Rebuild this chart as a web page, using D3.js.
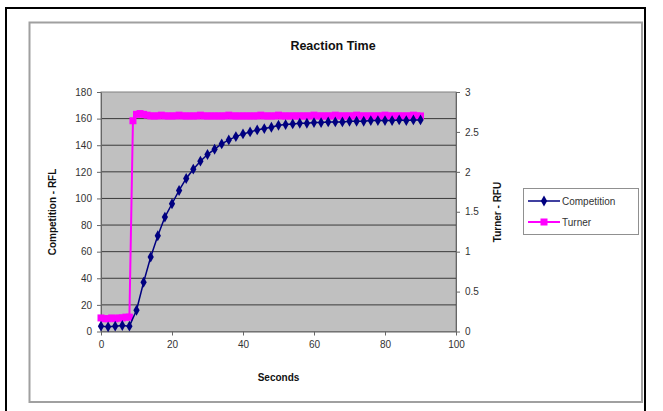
<!DOCTYPE html>
<html><head><meta charset="utf-8">
<script src="https://cdn.jsdelivr.net/npm/d3@7"></script>
<style>html,body{margin:0;padding:0;background:#fff;} svg{display:block;font-family:"Liberation Sans",Arial,sans-serif;}</style>
</head><body>
<svg id="chart" width="663" height="411"></svg>
<script>
const xTicks = [0, 20, 40, 60, 80, 100];
const leftTicks = [0, 20, 40, 60, 80, 100, 120, 140, 160, 180];
const rightTicks = [0, 0.5, 1, 1.5, 2, 2.5, 3];
const rightTickLabels = ["0", "0.5", "1", "1.5", "2", "2.5", "3"];

const competitionX = [0,2,4,6,8,10,12,14,16,18,20,22,24,26,28,30,32,34,36,38,40,42,44,46,48,50,52,54,56,58,60,62,64,66,68,70,72,74,76,78,80,82,84,86,88,90];
const competitionY = [4,3.5,4,4.5,4,16,37,56,72,86,96,106,115,122,128,133,137,141,144,146.5,148.5,150,151.5,152.5,153.5,155,155.5,156,156.5,156.5,157,157,157.5,157.5,157.5,158,158,158,158.5,158.5,158.5,158.5,159,158.5,159,159];

const turnerX = [0,1,2,3,4,5,6,7,8,9,10,11,12,13,14,15,16,17,18,19,20,21,22,23,24,25,26,27,28,29,30,31,32,33,34,35,36,37,38,39,40,41,42,43,44,45,46,47,48,49,50,51,52,53,54,55,56,57,58,59,60,61,62,63,64,65,66,67,68,69,70,71,72,73,74,75,76,77,78,79,80,81,82,83,84,85,86,87,88,89,90];
const turnerY = [0.17,0.16,0.16,0.17,0.16,0.17,0.17,0.18,0.18,2.64,2.72,2.73,2.72,2.71,2.70,2.70,2.70,2.71,2.70,2.70,2.70,2.70,2.71,2.70,2.70,2.70,2.70,2.70,2.71,2.70,2.70,2.70,2.70,2.70,2.70,2.70,2.71,2.70,2.70,2.70,2.70,2.70,2.70,2.70,2.70,2.71,2.70,2.70,2.70,2.70,2.71,2.70,2.70,2.70,2.70,2.70,2.70,2.70,2.70,2.70,2.71,2.70,2.70,2.70,2.70,2.70,2.71,2.70,2.70,2.70,2.70,2.70,2.71,2.70,2.70,2.70,2.70,2.70,2.70,2.70,2.71,2.70,2.70,2.70,2.70,2.70,2.70,2.70,2.71,2.70,2.70];

const seriesNames = ["Competition", "Turner"];
const seriesColors = ["#000080", "#ff00ff"];

const svg = d3.select("#chart");
const P = {l: 101, r: 456, t: 92, b: 331.5};

const x = d3.scaleLinear().domain([0, 100]).range([P.l, P.r]);
const yL = d3.scaleLinear().domain([0, 180]).range([P.b, P.t]);
const yR = d3.scaleLinear().domain([0, 3]).range([P.b, P.t]);

// frames
svg.append("rect").attr("x", 6).attr("y", 8).attr("width", 639).attr("height", 420)
  .attr("fill", "#fff").attr("stroke", "#000").attr("stroke-width", 2);
svg.append("rect").attr("x", 29.5).attr("y", 22.5).attr("width", 612.5).attr("height", 379.5)
  .attr("fill", "#fff").attr("stroke", "#a0a0a0").attr("stroke-width", 2);

// plot background
svg.append("rect").attr("x", P.l).attr("y", P.t).attr("width", P.r - P.l).attr("height", P.b - P.t)
  .attr("fill", "#c0c0c0").attr("stroke", "#808080").attr("stroke-width", 1);

// gridlines
svg.append("g").selectAll("line").data(leftTicks.filter(d => d > 0 && d < 180)).join("line")
  .attr("x1", P.l).attr("x2", P.r).attr("y1", d => yL(d)).attr("y2", d => yL(d))
  .attr("stroke", "#3a3a3a").attr("stroke-width", 1);

// axes
const tickFont = g => g.selectAll("text").attr("font-size", 10).attr("fill", "#333")
  .attr("font-family", '"Liberation Sans",Arial,sans-serif');
const axisStyle = g => { g.select(".domain").attr("stroke", "#666"); g.selectAll(".tick line").attr("stroke", "#666"); };

svg.append("g").attr("transform", `translate(${P.l},0)`)
  .call(d3.axisLeft(yL).tickValues(leftTicks).tickSize(4).tickPadding(5).tickSizeOuter(0))
  .call(tickFont).call(axisStyle);
svg.append("g").attr("transform", `translate(${P.r},0)`)
  .call(d3.axisRight(yR).tickValues(rightTicks).tickFormat((d, i) => rightTickLabels[i]).tickSize(4).tickPadding(5).tickSizeOuter(0))
  .call(tickFont).call(axisStyle);
svg.append("g").attr("transform", `translate(0,${P.b})`)
  .call(d3.axisBottom(x).tickValues(xTicks).tickSize(4).tickPadding(5).tickSizeOuter(0))
  .call(tickFont).call(axisStyle);

// titles
svg.append("text").attr("x", 333).attr("y", 50).attr("text-anchor", "middle")
  .attr("font-size", 12.5).attr("font-weight", "bold").attr("fill", "#111").text("Reaction Time");
svg.append("text").attr("x", 278.5).attr("y", 381).attr("text-anchor", "middle")
  .attr("font-size", 10).attr("font-weight", "bold").attr("fill", "#111").text("Seconds");
svg.append("text").attr("transform", "translate(56,212) rotate(-90)").attr("text-anchor", "middle")
  .attr("font-size", 10).attr("font-weight", "bold").attr("fill", "#111").text("Competition - RFL");
svg.append("text").attr("transform", "translate(501,212) rotate(-90)").attr("text-anchor", "middle")
  .attr("font-size", 10).attr("font-weight", "bold").attr("fill", "#111").text("Turner - RFU");

// Turner series (right axis)
const turner = turnerX.map((d, i) => [d, turnerY[i]]);
svg.append("path").datum(turner)
  .attr("d", d3.line().x(d => x(d[0])).y(d => yR(d[1])))
  .attr("fill", "none").attr("stroke", seriesColors[1]).attr("stroke-width", 2);
svg.append("g").selectAll("rect").data(turner).join("rect")
  .attr("x", d => x(d[0]) - 3.5).attr("y", d => yR(d[1]) - 3.5).attr("width", 7).attr("height", 7)
  .attr("fill", seriesColors[1]);

// Competition series (left axis)
const comp = competitionX.map((d, i) => [d, competitionY[i]]);
svg.append("path").datum(comp)
  .attr("d", d3.line().x(d => x(d[0])).y(d => yL(d[1])))
  .attr("fill", "none").attr("stroke", seriesColors[0]).attr("stroke-width", 1.5);
const diamond = d3.symbol().type(d3.symbolDiamond).size(34);
svg.append("g").selectAll("path").data(comp).join("path")
  .attr("transform", d => `translate(${x(d[0])},${yL(d[1])})`)
  .attr("d", diamond).attr("fill", seriesColors[0]);

// legend
const lg = svg.append("g");
lg.append("rect").attr("x", 523.5).attr("y", 188.5).attr("width", 115).attr("height", 46)
  .attr("fill", "#fff").attr("stroke", "#909090").attr("stroke-width", 1);
seriesNames.forEach((name, i) => {
  const yy = 201 + i * 21;
  lg.append("line").attr("x1", 528).attr("x2", 560).attr("y1", yy).attr("y2", yy)
    .attr("stroke", seriesColors[i]).attr("stroke-width", i ? 2 : 1.5);
  if (i === 0) {
    lg.append("path").attr("transform", `translate(544,${yy})`).attr("d", diamond).attr("fill", seriesColors[0]);
  } else {
    lg.append("rect").attr("x", 540.5).attr("y", yy - 3.5).attr("width", 7).attr("height", 7).attr("fill", seriesColors[1]);
  }
  lg.append("text").attr("x", 562).attr("y", yy + 3.5).attr("font-size", 10).attr("fill", "#333").text(name);
});
</script>
</body></html>
